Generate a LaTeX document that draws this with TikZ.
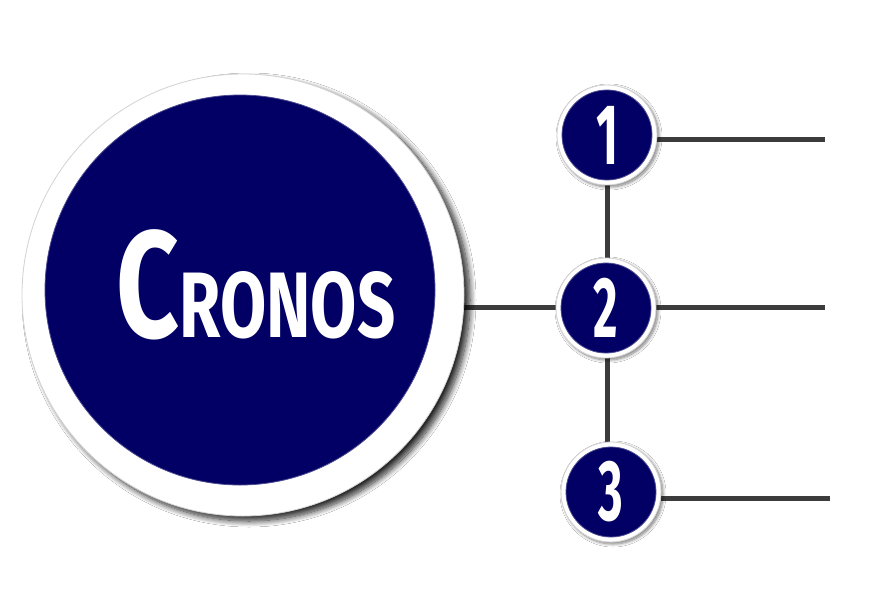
\documentclass[tikz,border=0pt]{standalone}
\usepackage{fontspec}
\setmainfont{Fira Sans}
\usetikzlibrary{shadows.blur,backgrounds}
\definecolor{navy}{RGB}{2,0,100}
\definecolor{linegray}{RGB}{60,60,60}
\begin{document}
\begin{tikzpicture}[x=1pt,y=-1pt,
  ring/.style={circle, fill=white, draw=gray!35, line width=0.8pt, minimum size=#1, inner sep=0pt},
  bigshadow/.style={blur shadow={shadow xshift=6pt, shadow yshift=-5pt, shadow blur radius=6pt, shadow blur steps=12, shadow opacity=85}},
  smallshadow/.style={blur shadow={shadow xshift=2pt, shadow yshift=-2pt, shadow blur radius=3pt, shadow blur steps=8, shadow opacity=50}},
  disc/.style={circle, fill=navy, draw=navy!70, line width=0.8pt, minimum size=#1, inner sep=0pt},
  conn/.style={draw=linegray, line width=5pt},
  num/.style={text=white, font=\fontsize{86}{86}\selectfont\bfseries}]
\useasboundingbox (0,0) rectangle (869,600);

% big circle
\node[ring=442pt, bigshadow] (big) at (243,295) {};
\node[disc=390pt] (bigdisc) at (240,290) {};
\node[text=white, anchor=base, inner sep=0pt] (title) at (256,337)
  {\bfseries\scalebox{0.72}[1]{\fontsize{152}{152}\selectfont C\fontsize{93}{93}\selectfont RONOS}};

% small circles
\node[ring=100pt, smallshadow] (r1) at (607,135) {};
\node[disc=90pt, num] (n1) at (607,135) {\scalebox{0.55}[1]{1}};
\node[ring=100pt, smallshadow] (r2) at (606,308) {};
\node[disc=90pt, num] (n2) at (606,308) {\scalebox{0.55}[1]{2}};
\node[ring=100pt, smallshadow] (r3) at (611,492) {};
\node[disc=90pt, num] (n3) at (611,492) {\scalebox{0.55}[1]{3}};

% line ends
\coordinate (e1) at (825,139);
\coordinate (e2) at (825,307);
\coordinate (e3) at (830,498);

\begin{scope}[on background layer]
  \fill[white] (0,0) rectangle (869,600);
  \draw[conn] (big.east |- e2) -- (e2);
  \draw[conn] (r1.east |- e1) -- (e1);
  \draw[conn] (r3.east |- e3) -- (e3);
  \draw[conn] (r1) -- (r1 |- r3);
\end{scope}
\end{tikzpicture}
\end{document}
